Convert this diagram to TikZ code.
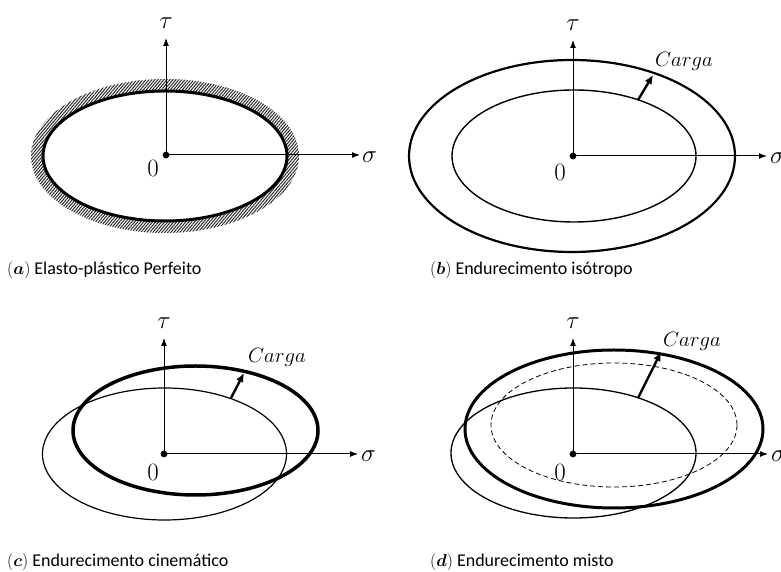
\documentclass[tikz,border=0pt]{standalone}
\usepackage{amsmath}
\usepackage{amssymb}
\usepackage{fontspec}
\setmainfont{Carlito}
\usepackage{tikz}
\usetikzlibrary{shapes,arrows.meta,patterns.meta}
\tikzstyle{axis} = [draw, -{Latex[length=8pt,width=6pt]}, line width=1pt]
\tikzstyle{load} = [draw, -{Latex[length=9pt,width=8pt]}, line width=2.4pt]
\tikzstyle{symb} = [font=\fontsize{26}{28}\selectfont, inner sep=0pt]
\tikzstyle{caption} = [font=\fontsize{18}{20}\selectfont, anchor=west, inner sep=0pt]
\tikzstyle{lbl} = [font=\fontsize{20}{22}\selectfont, inner sep=0pt]

\begin{document}
\begin{tikzpicture}[x=1pt,y=1pt]
\useasboundingbox (0,0) rectangle (781,572);
% (a)
\fill[pattern={Lines[angle=50,distance=2.3pt,line width=1pt]},pattern color=black!85,even odd rule]
  (165,416) ellipse [x radius=134, y radius=77] (165,416) ellipse [x radius=122, y radius=65];
\draw[line width=3pt] (165,416) ellipse [x radius=122, y radius=65];
\coordinate (Oa) at (166,417);
\coordinate (ta) at (166,534);
\coordinate (sa) at (360,417);
\path[axis] (Oa) -- (ta);
\path[axis] (Oa) -- (sa);
\fill (Oa) circle (3.4);
\node[symb] (taua) at (166,549) {$\tau$};
\node[symb,anchor=west] (siga) at (362,415) {$\sigma$};
\node[symb] (zeroa) at (153,404) {$0$};
\node[caption] (capa) at (7,302) {$(\boldsymbol{a})$ Elasto-plástico Perfeito};
%
% (b)
\draw[line width=2.2pt] (572,416) ellipse [x radius=163, y radius=96];
\draw[line width=1.4pt] (574,416) ellipse [x radius=122, y radius=66];
\coordinate (Ob) at (573,416);
\coordinate (tb) at (573,532);
\coordinate (sb) at (767,416);
\path[axis] (Ob) -- (tb);
\path[axis] (Ob) -- (sb);
\fill (Ob) circle (3.4);
\coordinate (lb1) at (638,472);
\coordinate (lb2) at (653,497);
\path[load] (lb1) -- (lb2);
\node[symb] (taub) at (573,547) {$\tau$};
\node[symb,anchor=west] (sigb) at (770,414) {$\sigma$};
\node[symb] (zerob) at (560,400) {$0$};
\node[lbl] (cargab) at (684,511) {$Carga$};
\node[caption] (capb) at (430,302) {$(\boldsymbol{b})$ Endurecimento isótropo};
%
% (c)
\draw[line width=1.2pt] (164.5,118) ellipse [x radius=122, y radius=66];
\draw[line width=3.5pt] (195.5,141.5) ellipse [x radius=122.5, y radius=64.5];
\coordinate (Oc) at (164,118);
\coordinate (tc) at (164,234);
\coordinate (sc) at (358,118);
\path[axis] (Oc) -- (tc);
\path[axis] (Oc) -- (sc);
\fill (Oc) circle (3.4);
\coordinate (lc1) at (231,174);
\coordinate (lc2) at (244,199);
\path[load] (lc1) -- (lc2);
\node[symb] (tauc) at (164,249) {$\tau$};
\node[symb,anchor=west] (sigc) at (361,116) {$\sigma$};
\node[symb] (zeroc) at (153,100) {$0$};
\node[lbl] (cargac) at (277,215) {$Carga$};
\node[caption] (capc) at (7,10) {$(\boldsymbol{c})$ Endurecimento cinemático};
%
% (d)
\draw[line width=1.3pt] (573.5,119) ellipse [x radius=122.5, y radius=65];
\draw[line width=0.8pt,dash pattern=on 5pt off 3pt] (614,147) ellipse [x radius=123, y radius=62];
\draw[line width=3pt] (614,143) ellipse [x radius=149, y radius=79];
\coordinate (Od) at (573,118);
\coordinate (td) at (573,234);
\coordinate (sd) at (768,118);
\path[axis] (Od) -- (td);
\path[axis] (Od) -- (sd);
\fill (Od) circle (3.4);
\coordinate (ld1) at (638,174);
\coordinate (ld2) at (661,220);
\path[load] (ld1) -- (ld2);
\node[symb] (taud) at (573,249) {$\tau$};
\node[symb,anchor=west] (sigd) at (771,116) {$\sigma$};
\node[symb] (zerod) at (560,100) {$0$};
\node[lbl] (cargad) at (692,231) {$Carga$};
\node[caption] (capd) at (430,10) {$(\boldsymbol{d})$ Endurecimento misto};
\end{tikzpicture}
\end{document}
